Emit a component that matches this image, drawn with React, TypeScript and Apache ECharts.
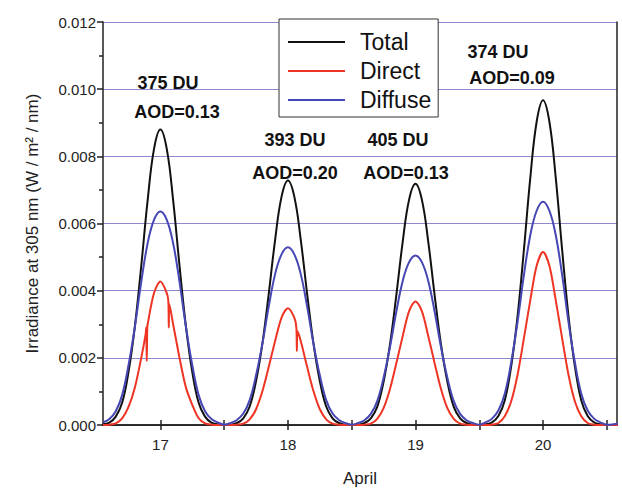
import React, { useEffect, useRef } from "react";
import * as echarts from "echarts";

// Time of day (days in April)
const times = [
  16.55, 16.6, 16.65, 16.7, 16.75, 16.8, 16.85, 16.9, 16.95, 17.0,
  17.05, 17.1, 17.15, 17.2, 17.25, 17.3, 17.35, 17.4, 17.45, 17.5,
  17.55, 17.6, 17.65, 17.7, 17.75, 17.8, 17.85, 17.9, 17.95, 18.0,
  18.05, 18.1, 18.15, 18.2, 18.25, 18.3, 18.35, 18.4, 18.45, 18.5,
  18.55, 18.6, 18.65, 18.7, 18.75, 18.8, 18.85, 18.9, 18.95, 19.0,
  19.05, 19.1, 19.15, 19.2, 19.25, 19.3, 19.35, 19.4, 19.45, 19.5,
  19.55, 19.6, 19.65, 19.7, 19.75, 19.8, 19.85, 19.9, 19.95, 20.0,
  20.05, 20.1, 20.15, 20.2, 20.25, 20.3, 20.35, 20.4, 20.45, 20.5,
  20.55, 20.6,
];

const total = [
  0.00002, 0.00007, 0.00025, 0.00066, 0.00158, 0.00294, 0.00474, 0.00669, 0.00822, 0.0088,
  0.00822, 0.00669, 0.00474, 0.00294, 0.00158, 0.00066, 0.00025, 0.00007, 0.00002, 0,
  0.00001, 0.00006, 0.0002, 0.00055, 0.00131, 0.00243, 0.00392, 0.00553, 0.0068, 0.00728,
  0.0068, 0.00553, 0.00392, 0.00243, 0.00131, 0.00055, 0.0002, 0.00006, 0.00001, 0,
  0.00001, 0.00006, 0.0002, 0.00054, 0.00129, 0.0024, 0.00387, 0.00546, 0.00671, 0.00718,
  0.00671, 0.00546, 0.00387, 0.0024, 0.00129, 0.00054, 0.0002, 0.00006, 0.00001, 0,
  0.00002, 0.00008, 0.00027, 0.00073, 0.00174, 0.00323, 0.00521, 0.00735, 0.00903, 0.00967,
  0.00903, 0.00735, 0.00521, 0.00323, 0.00174, 0.00073, 0.00027, 0.00008, 0.00002, 0,
  0, 0,
];

const diffuse = [
  0.00008, 0.00018, 0.00041, 0.00089, 0.00178, 0.00293, 0.00426, 0.00541, 0.00611, 0.00636,
  0.00611, 0.00541, 0.00426, 0.00293, 0.00178, 0.00089, 0.00041, 0.00018, 0.00008, 0.00001,
  0.00006, 0.00015, 0.00034, 0.00074, 0.00148, 0.00243, 0.00354, 0.0045, 0.00508, 0.00529,
  0.00508, 0.0045, 0.00354, 0.00243, 0.00148, 0.00074, 0.00034, 0.00015, 0.00006, 0.00001,
  0.00006, 0.00014, 0.00033, 0.00071, 0.00141, 0.00232, 0.00338, 0.00429, 0.00485, 0.00505,
  0.00485, 0.00429, 0.00338, 0.00232, 0.00141, 0.00071, 0.00033, 0.00014, 0.00006, 0.00001,
  0.00008, 0.00019, 0.00043, 0.00093, 0.00186, 0.00306, 0.00446, 0.00565, 0.00638, 0.00665,
  0.00638, 0.00565, 0.00446, 0.00306, 0.00186, 0.00093, 0.00043, 0.00019, 0.00008, 0.00001,
  0.00002, 0.00004,
];

const direct = [
  0, 0.00001, 0.00005, 0.0002, 0.00054, 0.00112, 0.002, 0.003, 0.00393, 0.00427,
  0.00393, 0.003, 0.002, 0.00112, 0.0006, 0.0002, 0.00005, 0.00001, 0, 0,
  0, 0.00001, 0.00004, 0.00017, 0.00047, 0.00101, 0.00174, 0.00251, 0.0032, 0.00348,
  0.0032, 0.00251, 0.00174, 0.00101, 0.00047, 0.00017, 0.00004, 0.00001, 0, 0,
  0, 0.00001, 0.00004, 0.00018, 0.0005, 0.00107, 0.00184, 0.00265, 0.00339, 0.00368,
  0.00339, 0.00265, 0.00184, 0.00107, 0.0005, 0.00018, 0.00004, 0.00001, 0, 0,
  0, 0.00001, 0.00006, 0.00026, 0.0007, 0.00149, 0.00258, 0.00371, 0.00474, 0.00515,
  0.00474, 0.00371, 0.00258, 0.00149, 0.0007, 0.00026, 0.00006, 0.00001, 0, 0,
  0, 0,
];

// Short cloud dips in the direct irradiance
const directDipTimes = [16.884, 16.889, 16.893, 16.897, 17.062, 17.066, 17.07, 18.066, 18.07, 18.074];
const directDipValues = [0.0027, 0.0029, 0.0019, 0.0029, 0.0037, 0.0029, 0.0036, 0.0029, 0.0022, 0.0028];

const xMajorTicks = [17, 18, 19, 20];
const xAllTicks = [17, 17.5, 18, 18.5, 19, 19.5, 20, 20.5];

const annotations = [
  { text: "375 DU", x: 168, y: 83 },
  { text: "AOD=0.13", x: 177, y: 112 },
  { text: "393 DU", x: 295, y: 140 },
  { text: "AOD=0.20", x: 295, y: 173 },
  { text: "405 DU", x: 398, y: 140 },
  { text: "AOD=0.13", x: 406, y: 173 },
  { text: "374 DU", x: 498, y: 52 },
  { text: "AOD=0.09", x: 512, y: 78 },
];

const FONT = "'Liberation Sans', Arial, Helvetica, sans-serif";

export default function App() {
  const ref = useRef<HTMLDivElement>(null);

  useEffect(() => {
    if (!ref.current) return;
    const chart = echarts.init(ref.current, undefined, { renderer: "svg" });

    const pairs = (vals: number[]) => times.map((t, i) => [t, vals[i]]);
    const directData = pairs(direct)
      .concat(directDipTimes.map((t, i) => [t, directDipValues[i]]))
      .sort((a, b) => a[0] - b[0]);

    const axisLine = { show: true, lineStyle: { color: "#222", width: 1.5 } };

    chart.setOption({
      animation: false,
      backgroundColor: "#fff",
      textStyle: { fontFamily: FONT },
      grid: { left: 103, right: 5, top: 22, bottom: 60 },
      legend: {
        data: ["Total", "Direct", "Diffuse"],
        orient: "vertical",
        left: 279,
        top: 19,
        icon: "rect",
        itemWidth: 57,
        itemHeight: 2,
        itemGap: 3,
        padding: [10, 7, 4, 9],
        backgroundColor: "#fff",
        borderColor: "#333",
        borderWidth: 1,
        textStyle: {
          fontSize: 23,
          lineHeight: 26,
          color: "#111",
          fontFamily: FONT,
          padding: [0, 0, 0, 10],
        },
      },
      xAxis: [
        {
          type: "value",
          min: 16.55,
          max: 20.58,
          position: "bottom",
          name: "April",
          nameLocation: "middle",
          nameGap: 45,
          nameTextStyle: { fontSize: 17, color: "#222", fontFamily: FONT },
          axisLine,
          axisTick: { show: true, inside: false, length: 5, customValues: xAllTicks, lineStyle: { color: "#222", width: 1.5 } },
          axisLabel: { show: true, customValues: xMajorTicks, fontSize: 15, color: "#222", margin: 12, fontFamily: FONT },
          splitLine: { show: false },
        },
        {
          type: "value",
          min: 16.55,
          max: 20.58,
          position: "top",
          axisLine,
          axisTick: { show: true, inside: false, length: 5, customValues: xAllTicks, lineStyle: { color: "#222", width: 1.5 } },
          axisLabel: { show: false },
          splitLine: { show: false },
        },
      ],
      yAxis: [
        {
          type: "value",
          min: 0,
          max: 0.012,
          interval: 0.002,
          position: "left",
          name: "Irradiance at 305 nm (W / m\u00B2 / nm)",
          nameLocation: "middle",
          nameGap: 62,
          nameTextStyle: { fontSize: 17, color: "#222", fontFamily: FONT },
          axisLine,
          axisTick: { show: true, inside: false, length: 6, lineStyle: { color: "#222", width: 1.5 } },
          minorTick: { show: true, splitNumber: 2, length: 4, lineStyle: { color: "#222", width: 1.5 } },
          axisLabel: {
            fontSize: 15,
            color: "#222",
            margin: 7,
            fontFamily: FONT,
            formatter: (v: number) => v.toFixed(3),
          },
          splitLine: { show: true, lineStyle: { color: "#8f88cc", width: 1 } },
        },
        {
          type: "value",
          min: 0,
          max: 0.012,
          interval: 0.002,
          position: "right",
          axisLine,
          axisTick: { show: false },
          axisLabel: { show: false },
          splitLine: { show: false },
        },
      ],
      series: [
        {
          name: "Total",
          type: "line",
          data: pairs(total),
          showSymbol: false,
          smooth: 0.4,
          lineStyle: { color: "#111", width: 2 },
          itemStyle: { color: "#111" },
        },
        {
          name: "Direct",
          type: "line",
          data: directData,
          showSymbol: false,
          smooth: 0.3,
          lineStyle: { color: "#ee3524", width: 2 },
          itemStyle: { color: "#ee3524" },
        },
        {
          name: "Diffuse",
          type: "line",
          data: pairs(diffuse),
          showSymbol: false,
          smooth: 0.4,
          lineStyle: { color: "#4646b4", width: 2 },
          itemStyle: { color: "#4646b4" },
        },
      ],
      graphic: annotations.map((a) => ({
        type: "text",
        x: a.x,
        y: a.y,
        z: 100,
        style: {
          text: a.text,
          fontSize: 18,
          fontWeight: "bold",
          fontFamily: FONT,
          fill: "#111",
          textAlign: "center",
          textVerticalAlign: "middle",
        },
      })),
    });

    return () => chart.dispose();
  }, []);

  return <div ref={ref} style={{ width: 622, height: 492, position: "absolute", left: 0, top: 0 }} />;
}
